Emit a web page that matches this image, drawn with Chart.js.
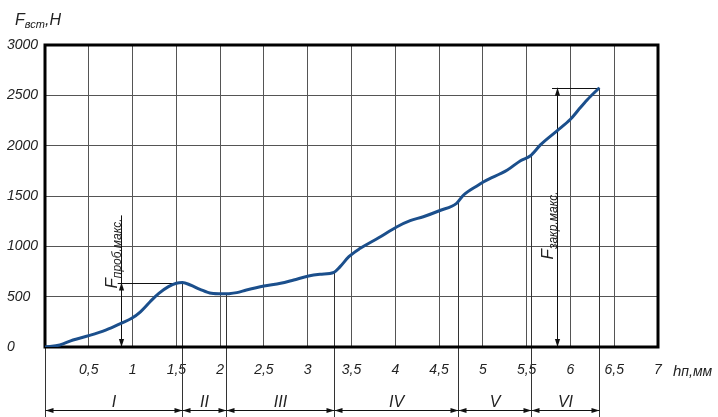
<!DOCTYPE html>
<html>
<head>
<meta charset="utf-8">
<script src="https://cdn.jsdelivr.net/npm/chart.js@4"></script>
<style>
  html, body { margin: 0; padding: 0; background: #fff; }
  canvas { display: block; }
</style>
</head>
<body>
<canvas id="chart" width="718" height="417"></canvas>
<script>
// Punch displacement h, mm
const displacement = [0, 0.17, 0.32, 0.51, 0.70, 0.88, 0.99, 1.09, 1.20, 1.30, 1.41, 1.50, 1.57,
  1.66, 1.77, 1.90, 2.02, 2.10, 2.19, 2.30, 2.50, 2.69, 2.84, 3.01, 3.14, 3.30, 3.37, 3.47,
  3.60, 3.81, 4.02, 4.17, 4.32, 4.51, 4.70, 4.78, 4.95, 5.01, 5.28, 5.43, 5.54, 5.66, 5.85,
  6.00, 6.09, 6.19, 6.33];
// Insertion force F, N
const force = [0, 20, 70, 115, 170, 240, 285, 350, 450, 533, 600, 633, 640,
  616, 573, 533, 528, 530, 540, 566, 606, 633, 666, 705, 722, 742, 798, 897,
  980, 1085, 1195, 1255, 1294, 1356, 1427, 1510, 1609, 1642, 1758, 1851, 1897, 2010, 2150,
  2262, 2354, 2454, 2575];

const xTickLabels = ['', '0,5', '1', '1,5', '2', '2,5', '3', '3,5', '4', '4,5', '5', '5,5', '6', '6,5', '7'];
const yTickLabels = ['0', '500', '1000', '1500', '2000', '2500', '3000'];

// Stage boundaries along h and stage names
const stageBounds = [0, 1.57, 2.07, 3.30, 4.72, 5.55, 6.33];
const stageNames = ['I', 'II', 'III', 'IV', 'V', 'VI'];

// Maximum-force dimensions: line position, leader start/end along h, force, label start force
const pierceMax = { x: 0.865, from: 0.83, to: 1.57, force: 640, sub: 'проб.макс.' };
const closeMax = { x: 5.85, from: 5.79, to: 6.33, force: 2575, sub: 'закр.макс.', labelAt: 870 };

const FONT = "'Liberation Sans', Arial, sans-serif";
const INK = '#222';

function forceAt(h) {
  for (let i = 1; i < displacement.length; i++) {
    if (h <= displacement[i]) {
      const t = (h - displacement[i - 1]) / (displacement[i] - displacement[i - 1]);
      return force[i - 1] + t * (force[i] - force[i - 1]);
    }
  }
  return force[force.length - 1];
}

function seg(ctx, x1, y1, x2, y2) {
  ctx.beginPath(); ctx.moveTo(x1, y1); ctx.lineTo(x2, y2); ctx.stroke();
}

// filled arrowhead with its tip at (x, y), pointing in direction (dx, dy)
function arrowHead(ctx, x, y, dx, dy) {
  const len = 8, half = 2.6;
  const bx = x - dx * len, by = y - dy * len;
  ctx.beginPath();
  ctx.moveTo(x, y);
  ctx.lineTo(bx - dy * half, by + dx * half);
  ctx.lineTo(bx + dy * half, by - dx * half);
  ctx.closePath();
  ctx.fill();
}

// text made of parts with own size and baseline shift, drawn along +x of the current transform
function richText(ctx, x, y, parts) {
  let cx = x;
  parts.forEach(p => {
    ctx.font = `italic ${p.size}px ${FONT}`;
    ctx.fillText(p.t, cx, y + (p.dy || 0));
    cx += ctx.measureText(p.t).width;
  });
  return cx - x;
}

function drawMaxDim(ctx, xs, ys, dim, textStartForce) {
  const px = Math.round(xs.getPixelForValue(dim.x)) + 0.5;
  const pTop = ys.getPixelForValue(dim.force);
  const pBot = ys.getPixelForValue(0);
  ctx.strokeStyle = '#111';
  ctx.fillStyle = '#111';
  ctx.lineWidth = 1;
  // leader at the maximum level
  const ly = Math.round(pTop) + 0.5;
  seg(ctx, xs.getPixelForValue(dim.from), ly, xs.getPixelForValue(dim.to), ly);
  // rotated label
  ctx.save();
  const start = textStartForce == null ? pTop + 6 : ys.getPixelForValue(textStartForce);
  ctx.translate(px - 1, start);
  ctx.rotate(-Math.PI / 2);
  ctx.fillStyle = INK;
  ctx.textBaseline = 'alphabetic';
  ctx.textAlign = 'left';
  const w = richText(ctx, 0, 0, [{ t: 'F', size: 17, dy: -4 }, { t: dim.sub, size: 12, dy: 0 }]);
  ctx.restore();
  // dimension line
  const lineTop = Math.min(pTop, start - w - 3);
  seg(ctx, px, lineTop, px, pBot);
  arrowHead(ctx, px, pTop, 0, -1);
  arrowHead(ctx, px, pBot, 0, 1);
}

const drawingPlugin = {
  id: 'drawing',
  beforeDatasetsDraw(chart) {
    const { ctx, chartArea: a, scales: { x: xs, y: ys } } = chart;
    const H = chart.height;
    ctx.save();

    // stage boundary lines from the curve down to the dimension row
    ctx.strokeStyle = '#333';
    ctx.lineWidth = 1;
    stageBounds.forEach((b, i) => {
      const px = Math.round(xs.getPixelForValue(b)) + 0.5;
      const top = i === 0 ? a.bottom : ys.getPixelForValue(forceAt(b));
      seg(ctx, px, top, px, H);
    });

    // stage dimension arrows and names
    const dy = H - 6.5;
    ctx.fillStyle = '#111';
    ctx.strokeStyle = '#111';
    for (let i = 0; i < stageNames.length; i++) {
      const x1 = Math.round(xs.getPixelForValue(stageBounds[i])) + 0.5;
      const x2 = Math.round(xs.getPixelForValue(stageBounds[i + 1])) + 0.5;
      seg(ctx, x1, dy, x2, dy);
      arrowHead(ctx, x1, dy, -1, 0);
      arrowHead(ctx, x2, dy, 1, 0);
      ctx.fillStyle = INK;
      ctx.font = `italic 16px ${FONT}`;
      ctx.textAlign = 'center';
      ctx.textBaseline = 'alphabetic';
      ctx.fillText(stageNames[i], (x1 + x2) / 2, dy - 4);
      ctx.fillStyle = '#111';
    }

    // maximum-force dimensions
    drawMaxDim(ctx, xs, ys, pierceMax, null);
    drawMaxDim(ctx, xs, ys, closeMax, closeMax.labelAt);

    // frame
    ctx.strokeStyle = '#000';
    ctx.lineWidth = 3;
    ctx.strokeRect(a.left, a.top, a.right - a.left, a.bottom - a.top);

    // axis titles
    ctx.fillStyle = INK;
    ctx.textAlign = 'left';
    ctx.textBaseline = 'alphabetic';
    richText(ctx, 15, 25, [{ t: 'F', size: 16 }, { t: 'вст', size: 11, dy: 3 }, { t: ',Н', size: 16 }]);
    richText(ctx, a.right + 15, a.bottom + 29, [{ t: 'h', size: 15 }, { t: 'п,мм', size: 14 }]);

    ctx.restore();
  }
};

new Chart(document.getElementById('chart'), {
  type: 'line',
  data: {
    datasets: [{
      data: displacement.map((h, i) => ({ x: h, y: force[i] })),
      borderColor: '#1b4f8c',
      borderWidth: 3,
      pointRadius: 0,
      cubicInterpolationMode: 'monotone',
      fill: false
    }]
  },
  options: {
    responsive: false,
    animation: false,
    layout: { padding: { top: 45, right: 60, left: 7, bottom: 0 } },
    plugins: { legend: { display: false }, tooltip: { enabled: false } },
    scales: {
      x: {
        type: 'linear',
        min: 0,
        max: 7,
        afterFit: s => { s.height = 70; },
        border: { display: false },
        grid: { color: '#555', lineWidth: 1, drawTicks: false },
        ticks: {
          stepSize: 0.5,
          padding: 15,
          maxRotation: 0,
          autoSkip: false,
          color: INK,
          font: { family: FONT, size: 14, style: 'italic' },
          callback: (v, i) => xTickLabels[i]
        }
      },
      y: {
        min: 0,
        max: 3000,
        afterFit: s => { s.width = 38; },
        border: { display: false },
        grid: { color: '#555', lineWidth: 1, drawTicks: false },
        ticks: {
          stepSize: 500,
          padding: 6,
          crossAlign: 'far',
          color: INK,
          font: { family: FONT, size: 14, style: 'italic' },
          callback: (v, i) => yTickLabels[i]
        }
      }
    }
  },
  plugins: [drawingPlugin]
});
</script>
</body>
</html>
